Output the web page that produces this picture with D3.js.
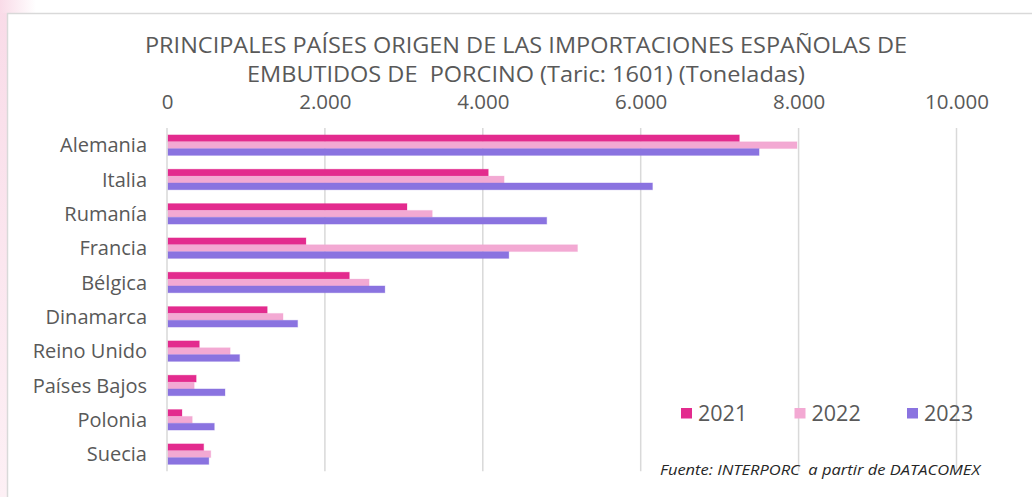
<!DOCTYPE html>
<html>
<head>
<meta charset="utf-8">
<script src="https://cdn.jsdelivr.net/npm/d3@7"></script>
<style>
  html, body { margin: 0; padding: 0; background: #ffffff; }
  svg { display: block; }
  text { font-family: "Open Sans", "Lato", sans-serif; white-space: pre; }
</style>
</head>
<body>
<svg id="chart" width="1032" height="497"></svg>
<script>
// Import volumes of pork sausages into Spain by country of origin (tonnes)
const countries = ["Alemania", "Italia", "Rumanía", "Francia", "Bélgica", "Dinamarca",
                   "Reino Unido", "Países Bajos", "Polonia", "Suecia"];
const years = ["2021", "2022", "2023"];
const values2021 = [7250, 4070, 3040, 1760, 2310, 1270, 410, 370, 190, 465];
const values2022 = [7980, 4270, 3360, 5200, 2560, 1470, 800, 345, 320, 555];
const values2023 = [7500, 6150, 4810, 4330, 2760, 1655, 920, 735, 600, 530];
const xTicks = [0, 2000, 4000, 6000, 8000, 10000];
const colors = ["#e32b8e", "#f3a9d3", "#8a73e0"];
const titleLines = ["PRINCIPALES PAÍSES ORIGEN DE LAS IMPORTACIONES ESPAÑOLAS DE",
                    "EMBUTIDOS DE  PORCINO (Taric: 1601) (Toneladas)"];
const sourceNote = "Fuente: INTERPORC  a partir de DATACOMEX";

const seriesByYear = [values2021, values2022, values2023];
const rows = countries.map((c, i) => ({ country: c, vals: seriesByYear.map(s => s[i]) }));

const svg = d3.select("#chart");
const W = 1032, H = 497;

// soft pink page edge behind the chart frame
const defs = svg.append("defs");
const grad = defs.append("linearGradient").attr("id", "edge").attr("x1", 0).attr("y1", 0).attr("x2", 0).attr("y2", 1);
grad.append("stop").attr("offset", "0%").attr("stop-color", "#f9dbe8");
grad.append("stop").attr("offset", "100%").attr("stop-color", "#fdf0f5");
const corner = defs.append("linearGradient").attr("id", "corner").attr("x1", 0).attr("y1", 0).attr("x2", 1).attr("y2", 0);
corner.append("stop").attr("offset", "0%").attr("stop-color", "#f9dbe8");
corner.append("stop").attr("offset", "100%").attr("stop-color", "#ffffff");
svg.append("rect").attr("x", 0).attr("y", 0).attr("width", 7).attr("height", H).attr("fill", "url(#edge)");
svg.append("rect").attr("x", 0).attr("y", 0).attr("width", 36).attr("height", 13).attr("fill", "url(#corner)");

// chart frame
svg.append("rect").attr("x", 7.5).attr("y", 13.5).attr("width", W + 10).attr("height", H + 10)
  .attr("fill", "#ffffff").attr("stroke", "#d9d9d9").attr("stroke-width", 1.5);

const x = d3.scaleLinear().domain([0, 10000]).range([167, 956.5]);
const y = d3.scaleBand().domain(countries).range([128, 471.3]).paddingInner(0.4).paddingOuter(0.2);
const yInner = d3.scaleBand().domain(years).range([0, y.bandwidth()]);

// gridlines
svg.append("g").selectAll("line").data(xTicks).join("line")
  .attr("x1", d => x(d)).attr("x2", d => x(d))
  .attr("y1", 128).attr("y2", 471.3)
  .attr("stroke", "#d9d9d9").attr("stroke-width", 1.5);

// top value axis
const xAxis = d3.axisTop(x).tickValues(xTicks).tickSize(0).tickPadding(0)
  .tickFormat(d => d3.format(",")(d).replace(/,/g, "."));
const gx = svg.append("g").attr("transform", "translate(0,109)").call(xAxis);
gx.select(".domain").remove();
gx.selectAll("text").attr("fill", "#595959").attr("font-size", 20.5).attr("dy", 0);

// category axis
const yAxis = d3.axisLeft(y).tickSize(0).tickPadding(20);
const gy = svg.append("g").attr("transform", "translate(167,0)").call(yAxis);
gy.select(".domain").remove();
gy.selectAll("text").attr("fill", "#595959").attr("font-size", 20).attr("dy", "0.36em");

// bars
const groups = svg.append("g").selectAll("g").data(rows).join("g")
  .attr("transform", d => `translate(0,${y(d.country)})`);
groups.selectAll("rect").data(d => d.vals.map((v, k) => ({ year: years[k], v, k }))).join("rect")
  .attr("x", x(0) + 1)
  .attr("y", d => yInner(d.year))
  .attr("width", d => x(d.v) - x(0) - 1)
  .attr("height", yInner.bandwidth())
  .attr("fill", d => colors[d.k])
  .attr("stroke", d => colors[d.k]).attr("stroke-opacity", 0.25).attr("stroke-width", 1);

// title (two centred lines, fitted to the frame width)
const titleWidths = [762, 558];
svg.append("g").selectAll("text").data(titleLines).join("text")
  .attr("x", 526).attr("y", (d, i) => 53 + i * 29.2)
  .attr("text-anchor", "middle").attr("fill", "#595959").attr("font-size", 22.5)
  .attr("textLength", (d, i) => titleWidths[i]).attr("lengthAdjust", "spacingAndGlyphs")
  .text(d => d);

// legend
const legendX = [681, 794.5, 907];
const lg = svg.append("g").selectAll("g").data(years).join("g")
  .attr("transform", (d, i) => `translate(${legendX[i]},0)`);
lg.append("rect").attr("x", 0).attr("y", 408).attr("width", 11).attr("height", 10.5)
  .attr("fill", (d, i) => colors[i]);
lg.append("text").attr("x", 17).attr("y", 421).attr("fill", "#595959").attr("font-size", 21.5)
  .text(d => d);

// source note
svg.append("text").attr("x", 660).attr("y", 475)
  .attr("font-family", "'Liberation Sans', sans-serif").attr("font-style", "italic")
  .attr("font-size", 15).attr("fill", "#262626")
  .attr("textLength", 320).attr("lengthAdjust", "spacingAndGlyphs")
  .text(sourceNote);
</script>
</body>
</html>
